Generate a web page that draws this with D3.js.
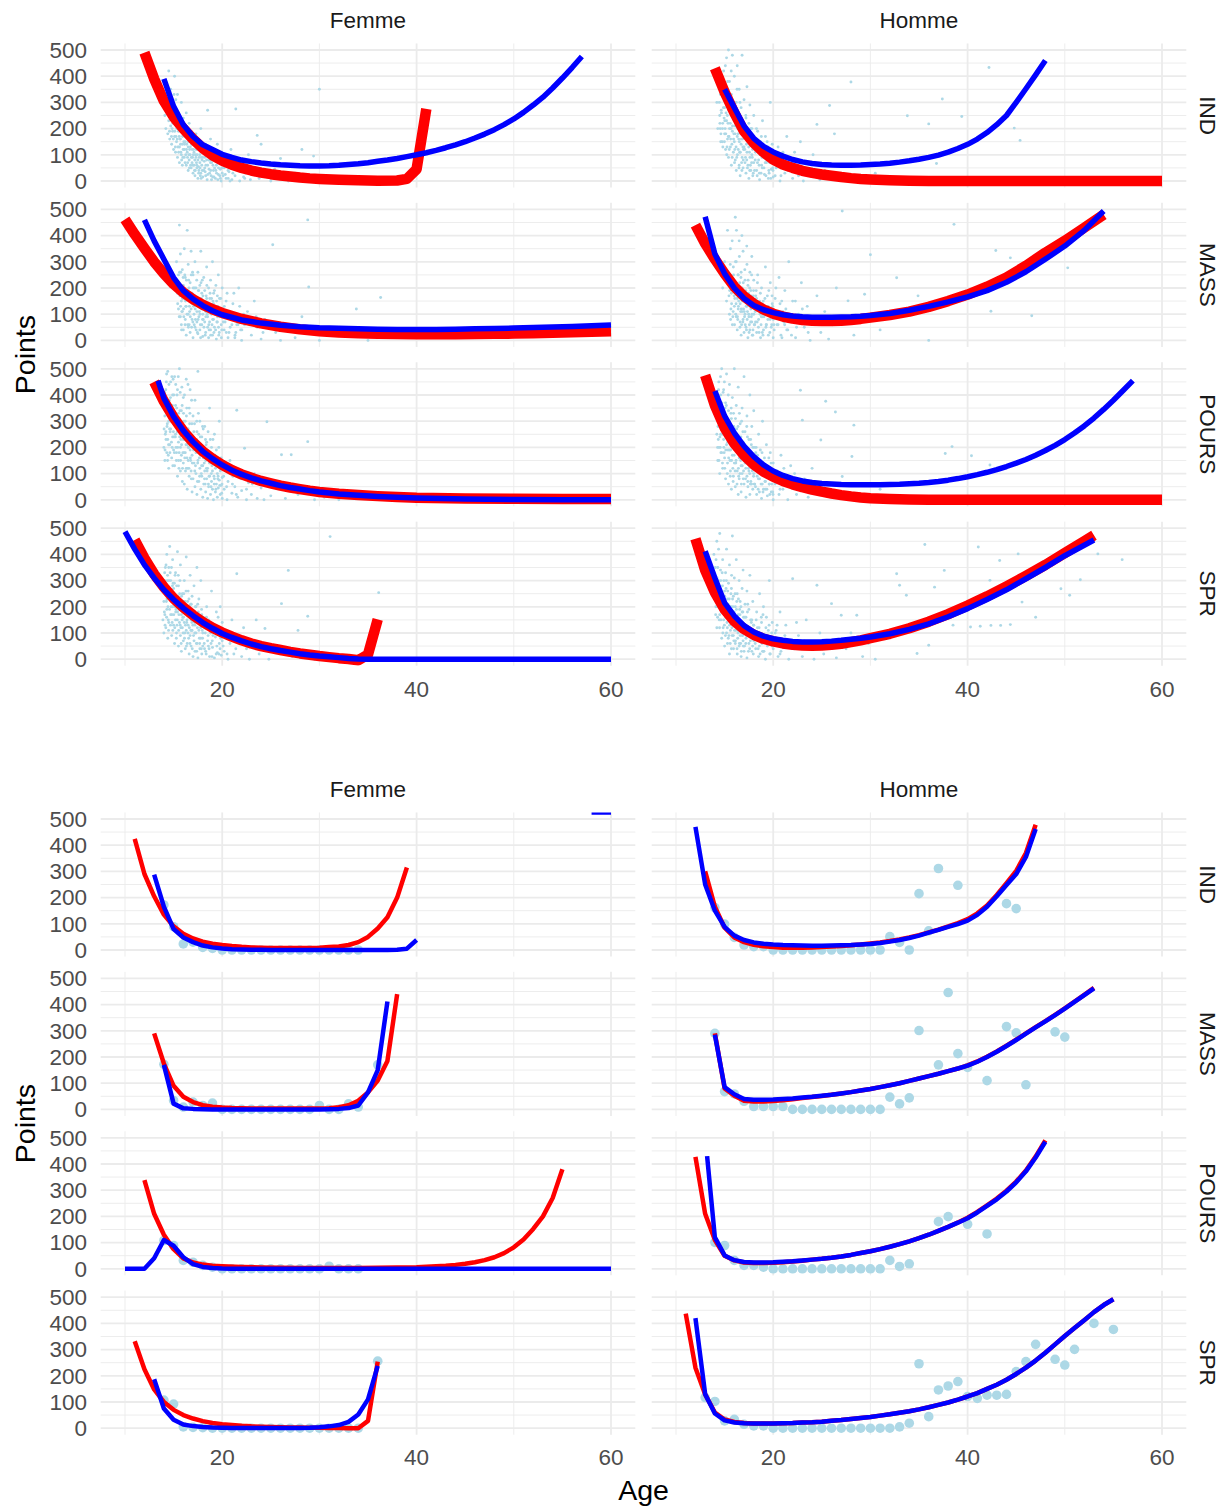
<!DOCTYPE html>
<html><head><meta charset="utf-8">
<script src="https://cdn.jsdelivr.net/npm/d3@7"></script>
<style>body{margin:0;background:#fff}svg{display:block}text{font-family:"Liberation Sans",Arial,sans-serif}</style>
</head><body><svg id="c" width="1227" height="1506"></svg>
<script>
// ---------- categories / ticks ----------
const sexes = ["Femme", "Homme"];
const events = ["IND", "MASS", "POURS", "SPR"];
const xTicks = [20, 40, 60];
const xMinor = [10, 30, 50];
const yTicks = [0, 100, 200, 300, 400, 500];
const yMinor = [50, 150, 250, 350, 450];
const xTitle = "Age", yTitle = "Points";

// ---------- TOP figure: lines (flat arrays age,value) ----------
const tF_IND_red = [12,490,13,390,14,305,15,245,16,200,17,160,18,125,19,98,20,78,21,62,22,50,23,40,24,32,25,26,26,21,27,17,28,13,29,10,30,8,32,5,34,3,36,1,38,2,39,8,40,45,41,275];
const tF_IND_blue = [14,390,15,285,16,215,17,170,18,138,19,120,20,102,21,90,22,80,23,74,24,69,25,65,26,62,27,60,28,58,29,57,30,57,31,58,32,60,33,63,34,66,35,70,36,75,37,80,38,86,39,93,40,100,41,108,42,117,43,127,44,138,45,150,46,164,47,179,48,196,49,215,50,237,51,262,52,290,53,320,54,355,55,393,56,433,57,475];
const tF_MASS_red = [10,462,11,405,12,352,13,300,14,255,15,215,16,183,17,157,18,136,19,119,20,105,22,82,24,65,26,52,28,42,30,35,32,30,34,27,36,25,38,24,40,23,42,23,44,23,46,24,48,25,50,26,52,27,54,29,56,31,58,33,60,35];
const tF_MASS_blue = [12,460,13,380,14,310,15,240,16,190,17,158,18,133,19,113,20,98,22,78,24,66,26,58,28,52,30,48,32,46,34,44,36,43,38,42,40,42,42,42,44,43,46,44,48,45,50,47,52,49,54,51,56,53,58,56,60,59];
const tF_POURS_red = [13,450,14,376,15,314,16,262,17,220,18,185,19,157,20,133,21,113,22,97,23,84,24,72,25,63,26,54,27,47,28,41,29,35,30,30,32,23,34,18,36,14,38,11,40,8,45,5,50,4,55,3,60,3];
const tF_POURS_blue = [13.4,455,14,388,15,318,16,264,17,221,18,185,19,157,20,133,21,113,22,97,23,84,24,72,25,63,26,54,27,47,28,41,29,35,30,30,32,22,34,17,36,13,38,10,40,7,45,3,50,1,55,0,60,0];
const tF_SPR_red = [11,455,12,385,13,325,14,275,15,232,16,198,17,168,18,142,19,120,20,102,21,86,22,72,23,60,24,50,25,42,26,35,27,28,28,22,29,17,30,12,31,8,32,4,33,1,34,-4,35,18,36,152];
const tF_SPR_blue = [10,487,11,420,12,360,13,310,14,265,15,228,16,195,17,166,18,140,19,118,20,98,21,83,22,70,23,58,24,48,25,40,26,33,27,27,28,21,29,16,30,12,31,9,32,6,33,3,34,1,35,0,40,0,45,0,50,0,55,0,60,0];
const tH_IND_red = [14,430,15,340,16,260,17,190,18,145,19,110,20,82,21,63,22,50,23,39,24,31,25,25,26,20,27,15,28,11,29,8,30,6,32,3,34,1,36,0,40,0,45,0,50,0,55,0,60,0];
const tH_IND_blue = [15,350,16,280,17,210,18,163,19,132,20,111,21,95,22,82,23,73,24,67,25,63,26,61,27,60,28,60,29,61,30,63,31,65,32,68,33,72,34,77,35,83,36,90,37,99,38,110,39,124,40,140,41,160,42,185,43,215,44,250,45,300,46,352,47,405,48,460];
const tH_MASS_red = [12,440,13,370,14,310,15,255,16,205,17,168,18,140,19,118,20,102,21,91,22,83,23,78,24,75,25,74,26,74,27,75,28,78,29,82,30,87,32,97,34,110,36,128,38,150,40,175,42,205,44,240,46,285,48,335,50,380,52,430,54,480];
const tH_MASS_blue = [13,472,14,330,15,255,16,200,17,160,18,133,19,117,20,106,21,98,22,93,23,90,24,88,25,88,26,88,27,89,28,90,29,92,30,95,32,103,34,115,36,130,38,147,40,166,42,190,44,222,46,262,48,310,50,360,52,420,54,494];
const tH_POURS_red = [13,475,14,360,15,275,16,215,17,170,18,135,19,108,20,88,21,72,22,59,23,48,24,39,25,31,26,24,27,18,28,13,29,9,30,6,32,3,34,1,36,0,40,0,45,0,50,0,55,0,60,0];
const tH_POURS_blue = [14,415,15,320,16,255,17,205,18,165,19,133,20,110,21,93,22,81,23,72,24,66,25,62,26,60,27,58,28,57,29,57,30,57,31,57,32,58,33,59,34,61,35,63,36,66,37,70,38,75,39,81,40,88,41,96,42,105,43,115,44,127,45,140,46,154,47,170,48,188,49,208,50,230,51,255,52,282,53,312,54,345,55,380,56,417,57,455];
const tH_SPR_red = [12,460,13,340,14,255,15,190,16,145,17,115,18,93,19,78,20,68,21,60,22,55,23,52,24,51,25,52,26,55,27,59,28,65,29,72,30,80,32,97,34,118,36,143,38,172,40,205,42,240,44,278,46,318,48,360,50,405,52,450,53,473];
const tH_SPR_blue = [13,412,14,310,15,215,16,165,17,128,18,104,19,88,20,78,21,72,22,68,23,66,24,66,25,67,26,69,27,72,28,76,29,80,30,85,32,97,34,114,36,135,38,162,40,193,42,228,44,265,46,307,48,350,50,395,52,435,53,455];

// ---------- TOP figure: individual results (age,points) ----------
const tF_IND_pts = [14.0,300,14.1,250,14.2,380,14.2,200,14.3,330,14.4,270,14.4,180,14.5,420,14.5,230,14.6,300,14.6,160,14.7,350,14.7,210,14.8,260,14.8,140,14.9,190,14.9,310,15.0,240,15.0,120,
15.1,400,15.1,170,15.2,280,15.2,110,15.3,220,15.3,150,15.4,330,15.4,90,15.5,190,15.5,260,15.6,130,15.6,70,15.7,210,15.7,160,15.8,100,15.8,300,15.9,140,15.9,60,16.0,180,16.0,240,
16.1,120,16.1,90,16.2,200,16.2,150,16.3,60,16.3,260,16.4,110,16.4,170,16.5,40,16.5,130,16.6,220,16.6,80,16.7,150,16.7,100,16.8,50,16.8,190,16.9,120,16.9,70,17.0,160,17.0,30,
17.1,110,17.1,60,17.2,140,17.2,20,17.3,90,17.3,180,17.4,50,17.4,120,17.5,80,17.5,10,17.6,150,17.6,40,17.7,100,17.7,70,17.8,30,17.8,200,17.9,130,17.9,60,18.0,90,18.0,15,
18.1,110,18.2,50,18.3,140,18.3,20,18.4,80,18.5,270,18.5,60,18.6,100,18.7,30,18.8,160,18.8,70,18.9,5,19.0,120,19.1,40,19.2,85,19.3,10,19.4,60,19.5,140,19.6,25,19.7,95,19.8,45,19.9,0,20.0,75,20.0,30,
20.2,50,20.4,10,20.5,90,20.7,35,20.9,120,21.0,5,21.2,60,21.4,275,21.6,80,21.8,0,22.0,40,22.2,15,22.5,65,22.7,100,22.9,5,23.2,30,23.6,174,23.8,10,24.0,140,
24.5,20,25.0,0,25.4,45,26.0,86,26.3,10,26.8,0,27.5,30,28.2,120,29.0,0,29.4,95,30.0,350,30.4,10,31.0,0];
const tF_IND_pts2 = [14.65,280,14.85,200,15.05,330,15.15,220,15.25,170,15.35,250,15.45,130,15.55,200,15.65,160,15.75,110,15.85,230,15.95,90,16.05,150,16.15,200,16.25,100,16.35,140,16.45,70,16.55,180,16.65,120,16.75,60,16.85,140,16.95,90,17.05,120,17.15,40,17.25,100,17.35,70,17.45,150,17.55,55,17.65,120,17.75,20,17.85,90,17.95,40,18.05,120,18.15,75,18.25,35,18.35,100,18.45,5,18.55,130,18.65,45,18.75,80,18.85,20,18.95,110,19.05,60,19.15,15,19.25,120,19.35,40,19.45,90,19.55,5,19.65,70,19.75,20,19.85,100,19.95,50,20.1,20,20.3,70,20.6,40,20.8,0,21.1,30,21.5,50,22.1,70,22.4,30];
const tF_IND_pts3 = [14.52,260,14.58,190,14.63,340,14.72,240,14.78,170,14.83,290,14.92,220,14.97,160,15.03,270,15.12,190,15.18,130,15.23,310,15.32,200,15.38,160,15.43,240,15.52,110,15.58,170,15.63,230,15.72,140,15.78,190,15.83,80,15.92,170,15.98,120,16.03,210,16.12,140,16.18,70,16.23,170,16.32,120,16.38,190,16.43,90,16.52,150,16.58,100,16.63,50,16.72,130,16.78,170,16.83,90,16.92,140,16.98,60,17.03,100,17.12,150,17.18,80,17.23,40,17.32,120,17.38,60,17.43,100,17.52,130,17.58,30,17.63,90,17.72,50,17.78,120,17.83,10,17.92,80,17.98,110,18.12,40,18.22,90,18.32,60,18.42,120,18.52,25,18.62,80,18.72,110,18.82,40,18.92,70,19.02,15,19.12,90,19.22,50,19.32,100,19.42,30,19.62,50,19.82,10,20.12,60,20.32,25,20.62,10,20.92,50,21.32,20,21.72,40,22.32,10,22.82,30];
const tF_MASS_pts = [15.3,300,15.4,180,15.5,250,15.5,120,15.6,440,15.6,200,15.7,90,15.7,330,15.8,150,15.8,60,15.9,270,15.9,110,16.0,210,16.0,40,16.1,350,16.1,160,16.2,80,16.2,240,16.3,130,16.3,20,16.4,420,16.4,190,16.5,100,16.5,290,16.6,60,16.6,150,16.7,220,16.7,30,16.8,120,16.8,340,16.9,80,16.9,180,17.0,250,17.0,10,
17.1,140,17.1,100,17.2,300,17.2,50,17.3,200,17.3,160,17.4,70,17.4,110,17.5,260,17.5,25,17.6,150,17.6,90,17.7,210,17.7,40,17.8,130,17.8,340,17.9,60,17.9,180,18.0,100,18.0,15,
18.1,240,18.1,140,18.2,70,18.2,190,18.3,30,18.3,110,18.4,280,18.4,160,18.5,50,18.5,90,18.6,200,18.6,10,18.7,130,18.7,70,18.8,230,18.8,40,18.9,100,18.9,160,19.0,20,19.0,300,19.1,80,19.1,140,19.2,50,19.2,190,19.3,110,19.4,5,19.5,170,19.5,70,19.6,250,19.7,30,19.8,120,19.9,60,20.0,90,20.0,200,
20.2,40,20.4,150,20.6,10,20.8,110,21.0,60,21.2,180,21.4,30,21.6,90,21.8,130,22.0,0,22.3,60,22.6,110,23.0,20,23.3,150,23.6,50,24.0,5,24.4,80,25.2,365,25.5,30,26.0,0,26.8,60,27.5,10,28.2,90,28.8,460,28.9,204,30.0,0,31.5,20,33.8,120,35.0,0,36.3,164];
const tF_MASS_pts2 = [15.45,220,15.65,170,15.75,260,15.85,110,15.95,200,16.05,90,16.15,250,16.25,130,16.35,190,16.45,60,16.55,230,16.65,110,16.75,170,16.85,50,16.95,260,17.05,130,17.15,200,17.25,80,17.35,140,17.45,30,17.55,190,17.65,110,17.75,60,17.85,160,17.95,230,18.05,80,18.15,120,18.25,20,18.35,170,18.45,100,18.55,140,18.65,40,18.75,180,18.85,110,18.95,60,19.05,150,19.15,30,19.25,100,19.35,210,19.45,70,19.55,130,19.65,20,19.75,90,19.85,160,19.95,40,20.1,120,20.3,70,20.5,180,20.7,30,20.9,90,21.1,140,21.3,10,21.5,60,21.7,200,21.9,40,22.2,100,22.8,60,23.5,90,24.2,30];
const tF_MASS_pts3 = [15.32,220,15.42,140,15.52,180,15.58,90,15.62,260,15.72,130,15.78,210,15.82,40,15.92,160,15.98,240,16.02,120,16.12,190,16.18,60,16.22,150,16.32,230,16.38,100,16.42,170,16.52,50,16.58,200,16.62,130,16.72,90,16.78,180,16.82,250,16.92,140,16.98,70,17.02,200,17.12,60,17.18,170,17.22,120,17.32,40,17.38,230,17.42,150,17.52,80,17.58,190,17.62,130,17.72,100,17.78,10,17.82,220,17.92,120,17.98,80,18.02,170,18.12,50,18.22,140,18.32,90,18.42,210,18.52,120,18.62,60,18.72,160,18.82,20,18.92,130,19.02,80,19.12,180,19.22,110,19.32,40,19.42,150,19.52,90,19.62,50,19.72,160,19.82,100,19.92,10,20.12,70,20.22,130,20.42,30,20.62,90,20.82,50,21.02,100,21.32,20,21.62,60,22.02,40,22.42,80];
const tF_POURS_pts = [14.0,200,14.1,320,14.1,150,14.2,420,14.2,260,14.3,180,14.3,380,14.4,230,14.4,490,14.5,300,14.5,120,14.6,350,14.6,210,14.7,450,14.7,270,14.8,160,14.8,330,14.9,240,14.9,400,15.0,190,15.0,290,
15.1,470,15.1,130,15.2,250,15.2,360,15.3,180,15.3,310,15.4,90,15.4,420,15.5,220,15.5,150,15.6,280,15.6,500,15.7,200,15.7,110,15.8,340,15.8,170,15.9,250,15.9,70,16.0,390,16.0,140,
16.1,230,16.1,60,16.2,300,16.2,180,16.3,460,16.3,120,16.4,210,16.4,40,16.5,270,16.5,150,16.6,350,16.6,90,16.7,190,16.7,420,16.8,110,16.8,250,16.9,30,16.9,170,17.0,320,17.0,80,
17.1,140,17.1,220,17.2,50,17.2,380,17.3,180,17.3,100,17.4,260,17.4,20,17.5,150,17.5,490,17.6,70,17.6,210,17.7,120,17.7,300,17.8,40,17.8,170,17.9,90,17.9,240,18.0,10,18.0,130,
18.1,190,18.1,60,18.2,110,18.2,280,18.3,30,18.3,150,18.4,80,18.4,220,18.5,5,18.5,120,18.6,170,18.6,50,18.7,90,18.7,350,18.8,20,18.8,140,18.9,70,18.9,200,19.0,110,19.0,40,
19.1,160,19.1,0,19.2,80,19.2,250,19.3,30,19.3,120,19.4,60,19.4,190,19.5,10,19.5,100,19.6,140,19.6,45,19.7,75,19.7,300,19.8,20,19.8,110,19.9,55,19.9,160,20.0,5,20.0,85,
20.2,40,20.3,120,20.5,0,20.6,70,20.8,150,21.0,25,21.1,90,21.3,50,21.5,342,21.6,10,21.8,110,22.0,35,22.3,197,22.5,0,22.7,65,23.0,20,23.3,100,23.6,5,24.0,45,24.3,0,24.6,298,25.0,15,25.5,60,
26.1,172,26.5,5,27.1,172,27.8,20,28.8,222,29.5,0,30.5,10,32.0,0];
const tF_POURS_pts2 = [14.05,350,14.15,250,14.25,450,14.35,290,14.45,170,14.55,380,14.65,260,14.75,330,14.85,200,14.95,460,15.05,240,15.15,330,15.25,200,15.35,400,15.45,260,15.55,120,15.65,340,15.75,230,15.85,430,15.95,180,16.05,300,16.15,160,16.25,240,16.35,350,16.45,120,16.55,200,16.65,290,16.75,150,16.85,380,16.95,230,17.05,190,17.15,290,17.25,130,17.35,230,17.45,70,17.55,330,17.65,160,17.75,240,17.85,100,17.95,190,18.05,270,18.15,140,18.25,60,18.35,210,18.45,110,18.55,260,18.65,90,18.75,180,18.85,50,18.95,130,19.05,230,19.15,90,19.25,170,19.35,40,19.45,140,19.55,80,19.65,200,19.75,55,19.85,130,19.95,25,20.15,90,20.45,50,20.75,110,21.05,60,21.45,20,21.95,80,22.5,40,23.1,60];
const tF_POURS_pts3 = [14.02,270,14.08,410,14.12,190,14.18,340,14.22,230,14.28,480,14.32,280,14.38,150,14.42,350,14.48,210,14.52,440,14.58,270,14.62,180,14.68,390,14.72,300,14.78,220,14.82,470,14.88,360,14.92,130,14.98,260,15.02,400,15.08,180,15.12,300,15.18,240,15.22,440,15.28,150,15.32,350,15.38,260,15.42,200,15.48,470,15.52,330,15.58,180,15.62,240,15.68,410,15.72,150,15.78,290,15.82,210,15.88,360,15.92,120,15.98,230,16.02,330,16.08,180,16.12,400,16.18,250,16.22,110,16.28,210,16.32,320,16.38,160,16.42,270,16.48,440,16.52,200,16.58,120,16.62,240,16.68,330,16.72,160,16.78,210,16.82,80,16.88,290,16.92,140,16.98,200,17.08,260,17.18,110,17.28,190,17.38,300,17.48,140,17.58,250,17.68,90,17.78,200,17.88,130,17.98,280,18.08,160,18.18,80,18.28,230,18.38,120,18.48,170,18.58,60,18.68,140,18.78,230,18.88,100,18.98,160,19.18,60,19.38,150,19.58,90,19.78,130,19.98,60];
const tF_SPR_pts = [13.9,150,14.0,220,14.0,100,14.1,300,14.1,170,14.2,250,14.2,120,14.3,400,14.3,190,14.4,280,14.4,80,14.5,350,14.5,140,14.6,230,14.6,430,14.7,170,14.7,300,14.8,90,14.8,250,14.9,200,14.9,380,15.0,130,15.0,270,
15.1,60,15.1,200,15.2,330,15.2,150,15.3,240,15.3,100,15.4,410,15.4,180,15.5,50,15.5,280,15.6,140,15.6,210,15.7,90,15.7,360,15.8,170,15.8,30,15.9,250,15.9,120,16.0,190,16.0,70,
16.1,300,16.1,140,16.2,40,16.2,220,16.3,110,16.3,390,16.4,170,16.4,60,16.5,260,16.5,130,16.6,20,16.6,200,16.7,90,16.7,320,16.8,150,16.8,50,16.9,240,16.9,110,17.0,10,17.0,180,
17.1,70,17.1,280,17.2,130,17.2,30,17.3,200,17.3,100,17.4,350,17.4,60,17.5,160,17.5,5,17.6,110,17.6,230,17.7,40,17.7,140,17.8,80,17.8,300,17.9,20,17.9,170,18.0,100,18.0,50,
18.2,120,18.3,30,18.4,200,18.5,70,18.6,150,18.7,10,18.8,100,18.9,260,19.0,45,19.1,130,19.2,5,19.3,85,19.4,180,19.5,25,19.6,110,19.7,60,19.8,200,19.9,15,20.0,70,20.0,140,
20.2,30,20.4,100,20.6,0,20.8,60,21.0,150,21.2,20,21.5,326,21.7,80,22.0,10,22.2,120,22.5,40,22.8,0,23.1,70,23.5,150,23.8,20,24.1,50,24.4,117,24.8,0,25.2,30,
26.1,212,26.8,339,27.2,10,27.8,110,28.8,164,29.5,0,31.1,468,32.0,5,36.1,254];
const tF_SPR_pts2 = [14.05,180,14.15,350,14.25,220,14.35,300,14.45,150,14.55,250,14.65,330,14.75,200,14.85,140,14.95,290,15.05,210,15.15,320,15.25,190,15.35,130,15.45,240,15.55,170,15.65,300,15.75,120,15.85,220,15.95,160,16.05,250,16.15,100,16.25,180,16.35,140,16.45,220,16.55,80,16.65,160,16.75,210,16.85,110,16.95,170,17.05,90,17.15,140,17.25,200,17.35,60,17.45,120,17.55,180,17.65,80,17.75,150,17.85,40,17.95,110,18.05,160,18.15,60,18.25,100,18.35,20,18.45,140,18.55,90,18.65,40,18.75,120,18.85,60,18.95,10,19.05,90,19.25,130,19.45,50,19.65,20,19.85,80,20.1,50,20.5,20,20.9,90,21.4,40,22.0,60];
const tF_SPR_pts3 = [14.02,260,14.08,330,14.12,130,14.18,280,14.22,360,14.28,160,14.32,230,14.38,320,14.42,200,14.48,110,14.52,300,14.58,190,14.62,270,14.68,130,14.72,240,14.78,350,14.82,170,14.88,280,14.92,110,14.98,230,15.02,170,15.08,290,15.12,120,15.18,240,15.22,180,15.28,80,15.32,280,15.38,150,15.42,210,15.48,320,15.52,110,15.58,190,15.62,250,15.68,130,15.72,200,15.78,60,15.82,240,15.88,150,15.92,190,15.98,100,16.02,160,16.08,220,16.12,80,16.18,180,16.22,130,16.28,260,16.32,50,16.38,150,16.42,200,16.48,100,16.52,170,16.58,230,16.62,120,16.68,60,16.72,180,16.78,110,16.82,210,16.88,140,16.92,40,16.98,130,17.08,170,17.18,100,17.28,150,17.38,30,17.48,210,17.58,140,17.68,60,17.78,120,17.88,190,17.98,80,18.08,130,18.18,40,18.38,160,18.58,50,18.78,140,18.98,70,19.18,110,19.38,20,19.58,160,19.78,40];
const tH_IND_pts = [14.2,300,14.3,200,14.4,380,14.5,250,14.6,150,14.7,330,14.8,220,14.9,420,15.0,180,15.0,280,
15.1,350,15.1,120,15.2,230,15.2,470,15.3,160,15.3,300,15.4,90,15.4,500,15.5,200,15.5,380,15.6,130,15.6,260,15.7,60,15.7,330,15.8,190,15.8,480,15.9,110,15.9,240,16.0,150,16.0,400,
16.1,80,16.1,210,16.2,300,16.2,40,16.3,170,16.3,440,16.4,120,16.4,250,16.5,60,16.5,350,16.6,190,16.6,20,16.7,140,16.7,280,16.8,90,16.8,480,16.9,200,16.9,50,17.0,130,17.0,310,
17.1,70,17.1,180,17.2,240,17.2,30,17.3,110,17.3,360,17.4,150,17.4,60,17.5,220,17.5,10,17.6,90,17.6,290,17.7,140,17.7,40,17.8,200,17.8,100,17.9,20,17.9,160,18.0,70,18.0,250,
18.2,120,18.3,40,18.4,190,18.5,80,18.6,5,18.7,150,18.8,60,18.9,230,19.0,100,19.1,25,19.2,170,19.3,70,19.4,120,19.5,10,19.6,90,19.7,300,19.8,45,19.9,140,20.0,15,20.0,80,
20.3,50,20.5,130,20.7,0,20.9,90,21.2,30,21.4,170,21.7,60,22.0,10,22.2,110,22.5,40,22.8,150,23.1,0,23.4,70,23.8,20,24.1,100,24.5,216,24.8,5,25.3,40,25.8,288,
26.3,180,27.0,20,28.0,378,29.0,5,30.5,30,33.8,249,36.0,218,36.8,67,37.4,313,39.4,246,42.2,433,44.8,202,45.4,155];
const tH_IND_pts2 = [14.45,300,14.55,200,14.65,270,14.75,150,14.85,320,14.95,240,15.05,200,15.15,260,15.25,130,15.35,220,15.45,170,15.55,290,15.65,200,15.75,140,15.85,250,15.95,180,16.05,120,16.15,230,16.25,90,16.35,200,16.45,160,16.55,110,16.65,230,16.75,70,16.85,160,16.95,120,17.05,200,17.15,90,17.25,140,17.35,50,17.45,170,17.55,110,17.65,60,17.75,150,17.85,90,17.95,30,18.05,130,18.15,80,18.25,160,18.35,20,18.45,110,18.55,60,18.65,100,18.75,30,18.85,90,18.95,140,19.05,50,19.15,100,19.25,20,19.35,80,19.45,130,19.55,40,19.65,70,19.75,10,19.85,100,19.95,50,20.2,20,20.6,70,21.0,110,21.5,40,22.0,70,22.6,20,23.2,50];
const tH_IND_pts3 = [14.52,220,14.58,330,14.62,180,14.68,260,14.72,400,14.78,200,14.82,130,14.88,280,14.92,350,14.98,150,15.02,230,15.08,440,15.12,180,15.18,310,15.22,100,15.28,250,15.32,380,15.38,170,15.42,270,15.48,120,15.52,320,15.58,220,15.62,160,15.68,420,15.72,250,15.78,90,15.82,210,15.88,300,15.92,160,15.98,230,16.02,70,16.08,180,16.12,270,16.18,130,16.22,210,16.28,350,16.32,100,16.38,180,16.42,240,16.48,50,16.52,150,16.58,300,16.62,110,16.68,200,16.72,160,16.78,40,16.82,230,16.88,130,16.92,80,16.98,190,17.08,120,17.18,250,17.28,80,17.38,180,17.48,130,17.58,40,17.68,200,17.78,70,17.88,120,17.98,160,18.08,40,18.18,110,18.28,200,18.38,70,18.48,140,18.58,30,18.68,100,18.78,170,18.88,50,18.98,110,19.18,70,19.38,150,19.58,30,19.78,90,19.98,40,20.4,100,20.8,20];
const tH_MASS_pts = [14.8,200,15.0,300,15.2,150,15.3,420,15.4,240,15.5,100,15.6,350,15.7,180,15.8,60,15.9,280,16.0,130,
16.1,470,16.1,210,16.2,90,16.2,300,16.3,160,16.3,40,16.4,250,16.4,120,16.5,380,16.5,190,16.6,70,16.6,140,16.7,260,16.7,20,16.8,110,16.8,200,16.9,340,16.9,80,17.0,160,17.0,30,
17.1,230,17.1,100,17.2,50,17.2,180,17.3,290,17.3,130,17.4,10,17.4,210,17.5,90,17.5,150,17.6,260,17.6,40,17.7,120,17.7,190,17.8,70,17.8,320,17.9,140,17.9,20,18.0,100,18.0,230,
18.1,60,18.2,170,18.3,30,18.3,120,18.4,250,18.5,80,18.6,150,18.7,10,18.8,200,18.9,90,19.0,40,19.1,130,19.2,280,19.3,60,19.4,170,19.5,20,19.6,110,19.7,220,19.8,50,19.9,140,20.0,80,20.0,10,
20.2,160,20.4,60,20.6,240,20.8,20,21.0,110,21.2,190,21.4,40,21.6,300,21.8,80,22.0,150,22.3,10,22.6,100,22.9,220,23.2,50,23.5,130,23.8,0,24.1,80,24.5,170,24.9,30,25.3,110,25.7,5,26.1,60,26.5,200,
27.1,494,27.7,151,28.3,20,29.4,176,30.0,327,31.0,40,32.7,239,34.9,170,36.0,0,38.6,443,42.4,111,42.9,343,44.4,315,46.6,94,50.3,277];
const tH_MASS_pts2 = [15.45,170,15.55,250,15.65,120,15.75,200,15.85,90,15.95,210,16.05,160,16.15,100,16.25,190,16.35,80,16.45,150,16.55,220,16.65,110,16.75,60,16.85,170,16.95,120,17.05,90,17.15,160,17.25,40,17.35,110,17.45,180,17.55,60,17.65,140,17.75,90,17.85,20,17.95,170,18.05,60,18.15,110,18.25,190,18.35,70,18.45,130,18.55,30,18.65,100,18.75,60,18.85,140,18.95,20,19.05,90,19.15,160,19.25,50,19.35,110,19.45,80,19.55,190,19.65,30,19.75,100,19.85,60,19.95,130,20.1,40,20.3,100,20.5,60,20.7,140,20.9,10,21.1,70,21.3,120,21.5,40,21.9,90,22.4,50,23.0,120,23.6,30,24.3,60];
const tH_MASS_pts3 = [15.52,190,15.58,290,15.62,80,15.68,230,15.72,140,15.78,380,15.82,200,15.88,110,15.92,250,15.98,170,16.02,60,16.08,220,16.12,300,16.18,140,16.22,420,16.28,180,16.32,90,16.38,250,16.42,130,16.48,200,16.52,320,16.58,50,16.62,170,16.68,240,16.72,120,16.78,400,16.82,150,16.88,70,16.92,220,16.98,180,17.02,110,17.08,270,17.12,60,17.18,190,17.22,130,17.28,360,17.32,80,17.38,160,17.42,230,17.48,100,17.52,30,17.58,200,17.62,130,17.68,70,17.72,170,17.78,250,17.82,100,17.88,140,17.92,40,17.98,190,18.08,120,18.18,70,18.28,160,18.38,220,18.48,50,18.58,130,18.68,180,18.78,90,18.88,30,18.98,150,19.08,100,19.28,60,19.48,130,19.68,80,19.88,170,20.08,60,20.28,200,20.58,90,20.88,150,21.18,60,21.48,100,21.88,20,22.28,150];
const tH_POURS_pts = [14.2,250,14.3,350,14.3,150,14.4,450,14.4,200,14.5,300,14.5,100,14.6,400,14.6,250,14.7,180,14.7,500,14.8,320,14.8,120,14.9,230,14.9,420,15.0,160,15.0,290,
15.1,80,15.1,370,15.2,210,15.2,480,15.3,140,15.3,280,15.4,60,15.4,340,15.5,190,15.5,440,15.6,110,15.6,250,15.7,40,15.7,310,15.8,170,15.8,390,15.9,90,15.9,220,16.0,500,16.0,140,
16.1,270,16.1,50,16.2,190,16.2,360,16.3,110,16.3,240,16.4,20,16.4,430,16.5,160,16.5,80,16.6,290,16.6,200,16.7,130,16.7,30,16.8,350,16.8,100,16.9,220,16.9,170,17.0,60,17.0,470,
17.1,140,17.1,260,17.2,10,17.2,190,17.3,90,17.3,320,17.4,150,17.4,50,17.5,230,17.5,110,17.6,400,17.6,20,17.7,170,17.7,70,17.8,280,17.8,130,17.9,40,17.9,200,18.0,100,18.0,340,
18.1,60,18.2,180,18.3,20,18.4,120,18.5,250,18.6,80,18.7,150,18.8,5,18.9,100,18.9,300,19.0,40,19.1,160,19.2,70,19.3,210,19.4,15,19.5,120,19.6,60,19.7,180,19.8,30,19.9,90,20.0,140,20.0,0,
20.2,60,20.4,110,20.6,20,20.8,170,21.0,40,21.3,90,21.5,0,21.8,130,22.0,50,22.4,20,22.8,418,23.0,304,23.2,80,23.6,10,24.0,120,24.4,40,24.9,228,25.4,376,
25.9,30,26.4,335,27.1,89,28.1,165,28.3,285,29.5,10,31.0,40,37.7,177,38.4,203,40.4,168,42.3,133];
const tH_POURS_pts2 = [14.25,320,14.35,230,14.45,380,14.55,200,14.65,330,14.75,250,14.85,410,14.95,180,15.05,350,15.15,240,15.25,310,15.35,190,15.45,260,15.55,150,15.65,330,15.75,220,15.85,120,15.95,280,16.05,200,16.15,140,16.25,270,16.35,180,16.45,90,16.55,230,16.65,150,16.75,300,16.85,180,16.95,110,17.05,210,17.15,80,17.25,150,17.35,240,17.45,120,17.55,170,17.65,60,17.75,210,17.85,110,17.95,150,18.05,60,18.15,120,18.25,200,18.35,90,18.45,40,18.55,150,18.65,110,18.75,60,18.85,180,18.95,30,19.05,100,19.15,70,19.25,130,19.35,40,19.45,90,19.55,160,19.65,20,19.75,110,19.85,60,19.95,30,20.3,80,20.7,40,21.1,120,21.6,60,22.2,100,23.0,40];
const tH_POURS_pts3 = [14.22,380,14.28,200,14.32,280,14.38,420,14.42,150,14.48,330,14.52,240,14.58,470,14.62,180,14.68,290,14.72,370,14.78,140,14.82,260,14.88,330,14.92,200,14.98,450,15.02,120,15.08,280,15.12,190,15.18,360,15.22,260,15.28,100,15.32,220,15.38,400,15.42,160,15.48,300,15.52,230,15.58,90,15.62,190,15.68,350,15.72,150,15.78,260,15.82,200,15.88,70,15.92,330,15.98,170,16.02,240,16.08,110,16.12,310,16.18,150,16.22,220,16.28,60,16.32,180,16.38,280,16.42,120,16.48,200,16.52,330,16.58,100,16.62,160,16.68,240,16.72,60,16.78,190,16.82,130,16.88,260,16.92,80,16.98,150,17.08,200,17.18,120,17.28,280,17.38,70,17.48,170,17.58,100,17.68,230,17.78,60,17.88,150,17.98,90,18.08,200,18.18,50,18.28,130,18.38,170,18.48,80,18.58,30,18.68,190,18.78,100,18.88,60,18.98,130,19.18,40,19.38,100,19.58,60,19.78,140,19.98,20];
const tH_SPR_pts = [13.9,400,14.0,300,14.1,200,14.2,450,14.2,120,14.3,350,14.4,250,14.5,170,14.5,480,14.6,300,14.7,80,14.7,220,14.8,380,14.9,150,15.0,260,15.0,50,
15.1,330,15.1,190,15.2,100,15.2,420,15.3,230,15.3,60,15.4,290,15.4,150,15.5,20,15.5,360,15.6,200,15.6,110,15.7,270,15.7,40,15.8,170,15.8,470,15.9,90,15.9,240,16.0,130,16.0,310,
16.1,60,16.1,200,16.2,150,16.2,380,16.3,20,16.3,250,16.4,110,16.4,170,16.5,300,16.5,50,16.6,220,16.6,90,16.7,140,16.7,10,16.8,270,16.8,180,16.9,70,16.9,340,17.0,120,17.0,30,
17.1,210,17.2,80,17.2,160,17.3,260,17.3,5,17.4,120,17.5,60,17.5,190,17.6,320,17.7,100,17.8,30,17.8,150,17.9,220,18.0,70,18.0,130,
18.2,40,18.3,180,18.4,100,18.5,10,18.6,250,18.7,70,18.8,140,18.9,30,19.0,200,19.1,90,19.2,0,19.3,160,19.4,50,19.5,110,19.6,300,19.7,20,19.8,80,19.9,140,20.0,40,
20.2,100,20.5,10,20.7,180,21.0,60,21.3,130,21.6,0,22.0,307,22.2,40,22.6,90,23.0,10,23.4,150,23.8,50,24.2,0,24.5,282,24.8,100,25.2,20,25.6,60,26.0,212,26.5,5,27.0,168,27.5,40,28.0,100,28.6,168,29.2,10,29.8,60,30.5,0,31.2,90,
32.7,326,33.0,282,33.7,244,34.8,22,35.6,438,36.0,53,36.6,275,37.6,339,38.5,130,40.3,123,41.1,428,41.3,126,42.3,301,42.4,129,43.3,377,43.4,129,44.4,132,45.2,402,45.6,218,47.0,160,49.6,269,50.5,244,51.6,303,53.4,402,55.9,380];
const tH_SPR_pts2 = [14.05,350,14.15,260,14.25,200,14.35,300,14.45,150,14.55,260,14.65,200,14.75,330,14.85,120,14.95,220,15.05,170,15.15,270,15.25,140,15.35,210,15.45,90,15.55,180,15.65,250,15.75,120,15.85,200,15.95,70,16.05,160,16.15,110,16.25,220,16.35,80,16.45,140,16.55,190,16.65,60,16.75,120,16.85,90,16.95,160,17.05,50,17.15,120,17.25,90,17.35,180,17.45,30,17.55,110,17.65,70,17.75,140,17.85,90,17.95,20,18.05,110,18.15,60,18.25,150,18.35,80,18.45,40,18.55,120,18.65,20,18.75,90,18.85,60,18.95,170,19.05,30,19.25,120,19.45,70,19.65,20,19.85,100,20.1,60,20.4,130,20.8,30,21.2,90,21.8,50,22.4,140,23.2,70];
const tH_SPR_pts3 = [14.02,230,14.08,170,14.12,380,14.18,260,14.22,310,14.28,160,14.32,220,14.38,420,14.42,280,14.48,120,14.52,200,14.58,340,14.62,150,14.68,250,14.72,180,14.78,280,14.82,100,14.88,210,14.92,300,14.98,130,15.02,240,15.08,90,15.12,160,15.18,300,15.22,190,15.28,120,15.32,260,15.38,80,15.42,180,15.48,230,15.52,130,15.58,60,15.62,200,15.68,150,15.72,320,15.78,90,15.82,230,15.88,140,15.92,40,15.98,180,16.02,110,16.08,250,16.12,70,16.18,130,16.22,190,16.28,40,16.32,150,16.38,100,16.42,230,16.48,140,16.52,60,16.58,170,16.62,110,16.68,200,16.72,30,16.78,140,16.82,90,16.88,180,16.92,50,16.98,120,17.08,160,17.18,60,17.28,110,17.38,210,17.48,90,17.58,40,17.68,150,17.78,100,17.88,50,17.98,130,18.18,80,18.38,120,18.58,50,18.78,160,18.98,30,19.28,80,19.58,130,19.88,50,20.3,110,20.7,20,21.2,70];

// ---------- BOTTOM figure: lines ----------
const bF_IND_red = [11,424,12,290,13,205,14,135,15,90,16,62,17,44,18,32,19,24,20,19,21,15,22,12,23,10,24,9,25,8,26,8,27,8,28,8,29,8,30,9,31,11,32,13,33,19,34,30,35,50,36,82,37,125,38,200,39,315];
const bF_IND_blue = [13,288,14,165,15,80,16,48,17,30,18,17,19,10,20,6,21,3,22,2,23,1,24,1,25,0,26,0,27,0,28,0,29,0,30,0,31,0,32,0,33,0,34,0,35,0,36,0,37,0,38,1,39,5,40,38,41,null,58,Infinity,59,Infinity,60,Infinity];
const bF_MASS_red = [13,290,14,175,15,90,16,48,17,28,18,16,19,10,20,7,21,5,22,4,23,3,24,3,25,3,26,3,27,3,28,3,29,3,30,3,31,4,32,8,33,16,34,33,35,65,36,110,37,185,38,440];
const bF_MASS_blue = [14,170,15,22,16,4,17,2,18,1,19,0,20,0,22,0,24,0,26,0,28,0,30,0,31,1,32,2,33,5,34,15,35,65,36,150,37,412];
const bF_POURS_red = [12,338,13,210,14,130,15,75,16,40,17,24,18,16,19,12,20,10,22,7,24,5,26,4,28,3,30,3,32,3,34,3,36,4,38,5,40,6,41,8,42,10,43,12,44,15,45,19,46,25,47,33,48,44,49,60,50,82,51,112,52,152,53,200,54,270,55,380];
const bF_POURS_blue = [10,0,11,0,12,0,13,40,14,110,15,88,16,44,17,18,18,7,19,3,20,1,21,0,25,0,30,0,35,0,40,0,45,0,50,0,55,0,60,0];
const bF_SPR_red = [11,332,12,225,13,148,14,100,15,70,16,50,17,37,18,27,19,20,20,15,21,12,22,9,23,7,24,6,25,5,26,4,27,3,28,3,29,2,30,2,31,1,32,1,33,0,34,0,35,28,36,254];
const bF_SPR_blue = [13,187,14,75,15,32,16,14,17,8,18,5,19,3,20,2,21,1,22,1,23,1,24,1,25,1,26,1,27,1,28,1,29,2,30,4,31,7,32,12,33,24,34,52,35,110,36,238];
const bH_IND_red = [13,300,14,165,15,85,16,48,17,30,18,20,19,14,20,11,21,9,22,9,23,9,24,10,25,11,26,13,27,15,28,18,29,21,30,25,31,29,32,34,33,40,34,48,35,57,36,67,37,78,38,90,39,103,40,118,41,140,42,170,43,210,44,255,45,302,46,370,47,478];
const bH_IND_blue = [12,470,13,250,14,150,15,88,16,55,17,38,18,29,19,24,20,21,21,19,22,18,23,17,24,16,25,16,26,17,27,18,28,19,29,21,30,23,31,27,32,32,33,38,34,46,35,55,36,66,37,77,38,88,39,99,40,112,41,134,42,165,43,205,44,248,45,290,46,355,47,462];
const bH_MASS_red = [14,290,15,80,16,52,17,33,18,30,19,30,20,32,21,35,22,39,23,43,24,47,25,51,26,56,27,61,28,66,29,72,30,78,31,85,32,92,33,100,34,109,35,118,36,127,37,136,38,146,39,156,40,168,41,183,42,201,43,221,44,243,45,266,46,290,47,314,48,337,49,361,50,386,51,411,52,437,53,464];
const bH_MASS_blue = [14,285,15,85,16,58,17,40,18,37,19,37,20,38,21,40,22,42,23,45,24,48,25,52,26,56,27,61,28,66,29,72,30,78,31,85,32,92,33,100,34,109,35,118,36,127,37,136,38,146,39,156,40,167,41,182,42,200,43,220,44,242,45,265,46,289,47,313,48,336,49,360,50,385,51,410,52,436,53,462];
const bH_POURS_red = [12,427,13,210,14,110,15,50,16,32,17,24,18,22,19,22,20,23,21,25,22,28,23,31,24,35,25,38,26,42,27,47,28,53,29,60,30,67,31,75,32,84,33,94,34,105,35,117,36,130,37,145,38,160,39,177,40,195,41,217,42,242,43,268,44,298,45,333,46,375,47,428,48,490];
const bH_POURS_blue = [13.2,430,14,120,15,51,16,33,17,26,18,24,19,24,20,25,21,27,22,29,23,32,24,35,25,38,26,42,27,47,28,53,29,60,30,67,31,75,32,84,33,94,34,105,35,117,36,130,37,145,38,160,39,176,40,193,41,215,42,240,43,265,44,295,45,330,46,372,47,425,48,485];
const bH_SPR_red = [11,437,12,231,13,129,14,60,15,33,16,24,17,20,18,18,19,18,20,18,21,19,22,20,23,22,24,23,25,25,26,28,27,31,28,35,29,39,30,43,31,48,32,53,33,59,34,65,35,72,36,80,37,89,38,98,39,109,40,121,41,134,42,150,43,166,44,185,45,207,46,231,47,258,48,288,49,320,50,352,51,382,52,412,53,443,54,470,55,492];
const bH_SPR_blue = [12,420,13,130,14,56,15,30,16,22,17,19,18,18,19,18,20,18,21,19,22,20,23,22,24,23,25,25,26,28,27,31,28,35,29,39,30,43,31,48,32,53,33,59,34,65,35,72,36,80,37,89,38,98,39,109,40,121,41,134,42,150,43,166,44,185,45,207,46,231,47,258,48,288,49,320,50,352,51,382,52,412,53,443,54,470,55,492];

// ---------- BOTTOM figure: points per age ----------
const bF_IND_pts = [14,172,15,89,16,23,17,30,18,10,19,6,20,0,21,0,22,0,23,0,24,0,25,0,26,0,27,0,28,0,29,0,30,0,31,0,32,0,33,0,34,0];
const bF_MASS_pts = [14,172,15,34,16,9,17,28,18,15,19,24,20,0,21,0,22,0,23,0,24,0,25,0,26,0,27,0,28,0,29,0,30,15,31,0,32,0,33,21,34,9,36,170];
const bF_POURS_pts = [14,108,15,89,16,32,17,25,18,13,19,6,20,0,21,0,22,0,23,0,24,0,25,0,26,0,27,0,28,0,29,0,30,0,31,10,32,0,33,0,34,0];
const bF_SPR_pts = [14,107,15,92,16,5,17,3,18,2,19,0,20,0,21,0,22,0,23,0,24,0,25,0,26,0,27,0,28,0,29,0,30,0,31,0,32,0,33,0,34,0,36,256];
const bH_IND_pts = [14,162,15,99,16,48,17,19,18,13,19,13,20,0,21,0,22,0,23,0,24,0,25,0,26,0,27,0,28,0,29,0,30,0,31,0,32,51,33,29,34,0,35,215,36,73,37,311,39,247,44,177,45,158];
const bH_MASS_pts = [14,290,15,68,16,59,17,31,18,11,19,11,20,11,21,11,22,0,23,0,24,0,25,0,26,0,27,0,28,0,29,0,30,0,31,0,32,47,33,21,34,44,35,301,37,170,38,446,39,213,40,160,42,110,44,316,45,292,46,94,49,296,50,276];
const bH_POURS_pts = [14,101,15,89,16,32,17,13,18,13,19,6,20,0,21,0,22,0,23,0,24,0,25,0,26,0,27,0,28,0,29,0,30,0,31,0,32,32,33,9,34,19,37,180,38,199,40,170,42,133];
const bH_SPR_pts = [13,117,14,102,15,28,16,34,17,15,18,9,19,9,20,0,21,0,22,0,23,0,24,0,25,0,26,0,27,0,28,0,29,0,30,0,31,0,32,0,33,5,34,19,35,246,36,44,37,146,38,161,39,178,40,121,41,114,42,126,43,126,44,129,45,216,46,254,47,320,49,263,50,241,51,301,53,400,55,377];

// ---------- build tables ----------
const pairs = a => { const r = []; for (let i = 0; i < a.length; i += 2) r.push([a[i], a[i + 1]]); return r; };
const figures = [
  { top: 43.45, stripY: 20, tickY: 689, redW: 10.5, blueW: 5.5, ptR: 1.45, titleY: null,
    red: { Femme: [tF_IND_red, tF_MASS_red, tF_POURS_red, tF_SPR_red], Homme: [tH_IND_red, tH_MASS_red, tH_POURS_red, tH_SPR_red] },
    blue: { Femme: [tF_IND_blue, tF_MASS_blue, tF_POURS_blue, tF_SPR_blue], Homme: [tH_IND_blue, tH_MASS_blue, tH_POURS_blue, tH_SPR_blue] },
    pts: { Femme: [tF_IND_pts.concat(tF_IND_pts2, tF_IND_pts3), tF_MASS_pts.concat(tF_MASS_pts2, tF_MASS_pts3), tF_POURS_pts.concat(tF_POURS_pts2, tF_POURS_pts3), tF_SPR_pts.concat(tF_SPR_pts2, tF_SPR_pts3)],
           Homme: [tH_IND_pts.concat(tH_IND_pts2, tH_IND_pts3), tH_MASS_pts.concat(tH_MASS_pts2, tH_MASS_pts3), tH_POURS_pts.concat(tH_POURS_pts2, tH_POURS_pts3), tH_SPR_pts.concat(tH_SPR_pts2, tH_SPR_pts3)] } },
  { top: 812.45, stripY: 789, tickY: 1457, redW: 4.5, blueW: 4.5, ptR: 4.8, titleY: 1490,
    red: { Femme: [bF_IND_red, bF_MASS_red, bF_POURS_red, bF_SPR_red], Homme: [bH_IND_red, bH_MASS_red, bH_POURS_red, bH_SPR_red] },
    blue: { Femme: [bF_IND_blue, bF_MASS_blue, bF_POURS_blue, bF_SPR_blue], Homme: [bH_IND_blue, bH_MASS_blue, bH_POURS_blue, bH_SPR_blue] },
    pts: { Femme: [bF_IND_pts, bF_MASS_pts, bF_POURS_pts, bF_SPR_pts], Homme: [bH_IND_pts, bH_MASS_pts, bH_POURS_pts, bH_SPR_pts] } }
];

// ---------- layout ----------
const colX = { Femme: [100.7, 635.3], Homme: [651.7, 1186.3] };
const panelH = 144.1, step = 159.4;
const xDom = [7.5, 62.5], yDom = [-25, 525];
const svg = d3.select("#c");
const defs = svg.append("defs");
const gridCol = "#EBEBEB";
let clipId = 0;

figures.forEach((fig, fi) => {
  const g = svg.append("g");
  sexes.forEach((sex, si) => {
    const x = d3.scaleLinear().domain(xDom).range(colX[sex]);
    g.append("text").attr("x", (colX[sex][0] + colX[sex][1]) / 2).attr("y", fig.stripY).attr("dy", "0.35em")
      .attr("text-anchor", "middle").attr("font-size", 22.5).attr("fill", "#1A1A1A").text(sex);
    events.forEach((ev, ri) => {
      const top = fig.top + ri * step, bot = top + panelH;
      const y = d3.scaleLinear().domain(yDom).range([bot, top]);
      const p = g.append("g");
      p.selectAll(".ymin").data(yMinor).join("line").attr("x1", colX[sex][0]).attr("x2", colX[sex][1])
        .attr("y1", d => y(d)).attr("y2", d => y(d)).attr("stroke", gridCol).attr("stroke-width", 0.9);
      p.selectAll(".xmin").data(xMinor).join("line").attr("y1", top).attr("y2", bot)
        .attr("x1", d => x(d)).attr("x2", d => x(d)).attr("stroke", gridCol).attr("stroke-width", 0.9);
      p.selectAll(".ymaj").data(yTicks).join("line").attr("x1", colX[sex][0]).attr("x2", colX[sex][1])
        .attr("y1", d => y(d)).attr("y2", d => y(d)).attr("stroke", gridCol).attr("stroke-width", 1.8);
      p.selectAll(".xmaj").data(xTicks).join("line").attr("y1", top).attr("y2", bot)
        .attr("x1", d => x(d)).attr("x2", d => x(d)).attr("stroke", gridCol).attr("stroke-width", 1.8);
      const id = "clip" + (clipId++);
      defs.append("clipPath").attr("id", id).append("rect")
        .attr("x", colX[sex][0]).attr("y", top).attr("width", colX[sex][1] - colX[sex][0]).attr("height", panelH);
      const c = p.append("g").attr("clip-path", `url(#${id})`);
      c.selectAll("circle").data(pairs(fig.pts[sex][ri])).join("circle")
        .attr("cx", d => x(d[0])).attr("cy", d => y(d[1])).attr("r", fig.ptR).attr("fill", "#ADD8E6");
      const line = d3.line().defined(d => d[1] !== null)
        .x(d => x(d[0])).y(d => y(Math.min(d[1], yDom[1])));
      c.append("path").attr("d", line(pairs(fig.red[sex][ri]))).attr("fill", "none")
        .attr("stroke", "#FF0000").attr("stroke-width", fig.redW).attr("stroke-linejoin", "round").attr("stroke-linecap", "butt");
      c.append("path").attr("d", line(pairs(fig.blue[sex][ri]))).attr("fill", "none")
        .attr("stroke", "#0000FF").attr("stroke-width", fig.blueW).attr("stroke-linejoin", "round").attr("stroke-linecap", "butt");
      if (si === 0) {
        p.selectAll(".yl").data(yTicks).join("text").attr("x", 87).attr("y", d => y(d)).attr("dy", "0.35em")
          .attr("text-anchor", "end").attr("font-size", 22.5).attr("fill", "#4D4D4D").text(d => d);
      }
      if (si === 1) {
        const cy = (top + bot) / 2;
        p.append("text").attr("transform", `translate(1208,${cy}) rotate(90)`).attr("dy", "0.35em")
          .attr("text-anchor", "middle").attr("font-size", 22.5).attr("fill", "#1A1A1A").text(ev);
      }
    });
    g.selectAll(".xl" + si).data(xTicks).join("text").attr("x", d => x(d)).attr("y", fig.tickY).attr("dy", "0.35em")
      .attr("text-anchor", "middle").attr("font-size", 22.5).attr("fill", "#4D4D4D").text(d => d);
  });
  const yc = (fig.top + fig.top + 3 * step + panelH) / 2;
  g.append("text").attr("transform", `translate(25,${yc}) rotate(-90)`).attr("dy", "0.35em")
    .attr("text-anchor", "middle").attr("font-size", 28.5).attr("fill", "#000").text(yTitle);
  if (fig.titleY) {
    g.append("text").attr("x", (colX.Femme[0] + colX.Homme[1]) / 2).attr("y", fig.titleY).attr("dy", "0.35em")
      .attr("text-anchor", "middle").attr("font-size", 28.5).attr("fill", "#000").text(xTitle);
  }
});
</script></body></html>
